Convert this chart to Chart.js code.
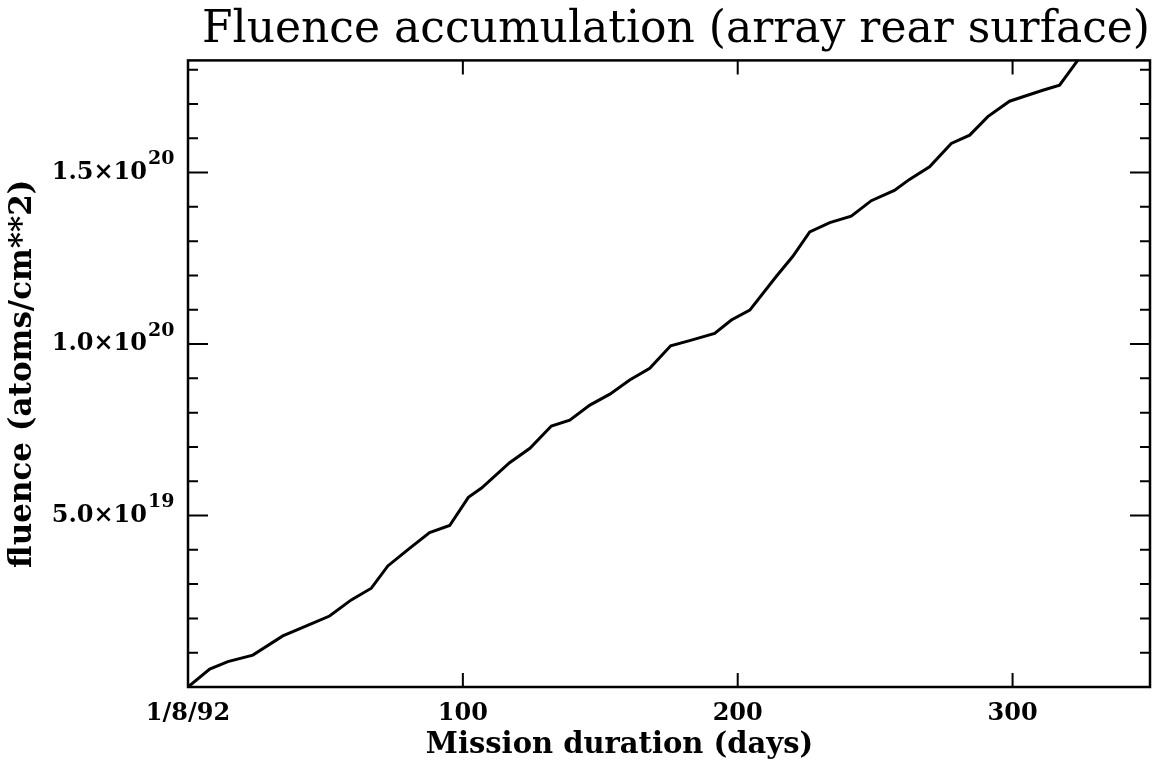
<!DOCTYPE html>
<html>
<head>
<meta charset="utf-8">
<script src="https://cdn.jsdelivr.net/npm/chart.js@4/dist/chart.umd.min.js"></script>
<style>
  html, body { margin: 0; padding: 0; background: #fff; }
  #wrap { width: 1154px; height: 766px; }
</style>
</head>
<body>
<div id="wrap"><canvas id="myChart" width="1154" height="766"></canvas></div>
<script>
// Mission day of each sample (days after 1/8/92)
const days = [0, 7.9, 14.5, 23.6, 34.5, 44.8, 51.5, 59.4, 66.7, 72.7, 80.6, 87.9, 95.2, 102, 106.8,
    117, 124.4, 132.2, 138.9, 146.2, 153.5, 160.7, 168, 175.6, 182.5, 191.6, 197.7, 204.4, 214, 220,
    226.2, 233.5, 241.3, 248.6, 257, 262.5, 269.8, 277.7, 284.4, 291, 298.9, 303.8, 311, 317.1, 323.7];
// Fluence in units of 1e19 atoms/cm**2
const fluenceE19 = [0, 0.52, 0.74, 0.93, 1.49, 1.84, 2.07, 2.54, 2.88, 3.53, 4.04, 4.5, 4.71, 5.53, 5.8,
    6.54, 6.96, 7.61, 7.78, 8.22, 8.54, 8.95, 9.29, 9.95, 10.1, 10.31, 10.7, 10.99, 11.97, 12.55,
    13.27, 13.54, 13.73, 14.18, 14.48, 14.8, 15.17, 15.85, 16.09, 16.63, 17.08, 17.21, 17.4, 17.55, 18.27];
// Axis ticks
const xTicks = [0, 100, 200, 300];
const xTickLabels = ['1/8/92', '100', '200', '300'];
const yMinorTicks = [1, 2, 3, 4, 5, 6, 7, 8, 9, 10, 11, 12, 13, 14, 15, 16, 17, 18]; // x1e19
const yTickMantissa = { 5: '5.0×10', 10: '1.0×10', 15: '1.5×10' };
const yTickExponent = { 5: '19', 10: '20', 15: '20' };

const xMax = 350;
const yMax = 18.27e19;
const yLabelPad = 41;
const xTitle = 'Mission duration (days)';

const points = days.map((d, i) => ({ x: d, y: fluenceE19[i] * 1e19 }));

// Draws the closed frame, the inward tick marks, the tick exponents and the x title
const framePlugin = {
    id: 'frame',
    afterDraw(chart) {
        const { ctx, chartArea: a, scales: { x, y } } = chart;
        ctx.save();
        ctx.strokeStyle = '#000';
        ctx.lineWidth = 2.5;
        ctx.strokeRect(a.left, a.top, a.right - a.left, a.bottom - a.top);
        ctx.lineWidth = 2;
        ctx.beginPath();
        xTicks.forEach(v => {
            if (v === 0) return;
            const px = x.getPixelForValue(v);
            ctx.moveTo(px, a.bottom); ctx.lineTo(px, a.bottom - 14);
            ctx.moveTo(px, a.top); ctx.lineTo(px, a.top + 14);
        });
        yMinorTicks.forEach(v => {
            const py = y.getPixelForValue(v * 1e19);
            const len = (v % 5 === 0) ? 20 : 10;
            ctx.moveTo(a.left, py); ctx.lineTo(a.left + len, py);
            ctx.moveTo(a.right, py); ctx.lineTo(a.right - len, py);
        });
        ctx.stroke();

        // exponents next to the y tick labels
        ctx.fillStyle = '#000';
        ctx.font = 'bold 19px "DejaVu Serif"';
        ctx.textAlign = 'left';
        ctx.textBaseline = 'middle';
        Object.keys(yTickExponent).forEach(k => {
            const py = y.getPixelForValue(k * 1e19);
            ctx.fillText(yTickExponent[k], a.left - yLabelPad + 1, py - 13);
        });

        // x axis title, sits a bit left of the plot centre in the original
        ctx.font = 'bold 29px "DejaVu Serif"';
        ctx.textAlign = 'center';
        ctx.fillText(xTitle, x.getPixelForValue(157), 745);
        ctx.restore();
    }
};

let myChart;

function createChart() {
    const ctx = document.getElementById('myChart').getContext('2d');
    myChart = new Chart(ctx, {
        type: 'line',
        data: {
            datasets: [{
                data: points,
                borderColor: '#000',
                borderWidth: 3,
                pointRadius: 0,
                tension: 0,
                fill: false
            }]
        },
        options: {
            responsive: false,
            animation: false,
            layout: { padding: { left: 0, right: 4, top: 0, bottom: 0 } },
            plugins: {
                legend: { display: false },
                tooltip: { enabled: false },
                title: {
                    display: true,
                    align: 'end',
                    text: 'Fluence accumulation (array rear surface)',
                    color: '#000',
                    font: { family: 'DejaVu Serif', size: 44, weight: 'normal', lineHeight: 1.1 },
                    padding: { top: 6, bottom: 6 }
                }
            },
            scales: {
                x: {
                    type: 'linear',
                    min: 0,
                    max: xMax,
                    afterBuildTicks: scale => { scale.ticks = xTicks.map(v => ({ value: v })); },
                    afterFit: scale => { scale.height = 79; },
                    grid: { display: false, drawTicks: false },
                    border: { display: false },
                    ticks: {
                        color: '#000',
                        padding: 12,
                        maxRotation: 0,
                        autoSkip: false,
                        font: { family: 'DejaVu Serif', size: 24, weight: 'bold' },
                        callback: v => xTickLabels[xTicks.indexOf(v)]
                    },
                    title: { display: false }
                },
                y: {
                    type: 'linear',
                    min: 0,
                    max: yMax,
                    afterBuildTicks: scale => { scale.ticks = yMinorTicks.map(v => ({ value: v * 1e19 })); },
                    afterFit: scale => { scale.width = 188; },
                    grid: { display: false, drawTicks: false },
                    border: { display: false },
                    ticks: {
                        color: '#000',
                        padding: yLabelPad,
                        autoSkip: false,
                        font: { family: 'DejaVu Serif', size: 24, weight: 'bold' },
                        callback: v => yTickMantissa[Math.round(v / 1e19)] || ''
                    },
                    title: {
                        display: true,
                        text: 'fluence (atoms/cm**2)',
                        color: '#000',
                        padding: { top: 6, bottom: 0 },
                        font: { family: 'DejaVu Serif', size: 31, weight: 'bold', lineHeight: 1.1 }
                    }
                }
            }
        },
        plugins: [framePlugin]
    });
}

createChart();
</script>
</body>
</html>
